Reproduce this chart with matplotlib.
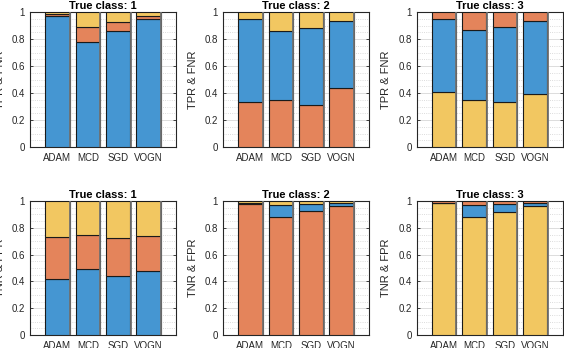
import numpy as np
import matplotlib.pyplot as plt
from matplotlib.ticker import MultipleLocator

plt.rcParams['font.family'] = ['Liberation Sans', 'DejaVu Sans']

methods = ['ADAM', 'MCD', 'SGD', 'VOGN']

# top row: TPR & FNR (stacked bottom -> top)
c1_tpr_blue = [0.972, 0.778, 0.857, 0.948]
c1_tpr_orange = [0.013, 0.111, 0.066, 0.022]
c1_tpr_yellow = [0.015, 0.111, 0.077, 0.030]

c2_tpr_orange = [0.333, 0.351, 0.311, 0.437]
c2_tpr_blue = [0.615, 0.506, 0.568, 0.499]
c2_tpr_yellow = [0.052, 0.143, 0.121, 0.064]

c3_tpr_yellow = [0.407, 0.351, 0.333, 0.393]
c3_tpr_blue = [0.541, 0.513, 0.556, 0.540]
c3_tpr_orange = [0.052, 0.136, 0.111, 0.067]

# bottom row: TNR & FPR
c1_tnr_blue = [0.419, 0.491, 0.437, 0.481]
c1_tnr_orange = [0.315, 0.258, 0.290, 0.256]
c1_tnr_yellow = [0.266, 0.251, 0.273, 0.263]

c2_tnr_orange = [0.975, 0.883, 0.928, 0.965]
c2_tnr_blue = [0.012, 0.087, 0.052, 0.020]
c2_tnr_yellow = [0.013, 0.030, 0.020, 0.015]

c3_tnr_yellow = [0.983, 0.883, 0.918, 0.965]
c3_tnr_blue = [0.005, 0.087, 0.060, 0.018]
c3_tnr_orange = [0.012, 0.030, 0.022, 0.017]

BLUE = '#4596d2'
ORANGE = '#e4845b'
YELLOW = '#f2c761'

panels = [
    ('True class: 1', 'TPR & FNR', [(c1_tpr_blue, BLUE), (c1_tpr_orange, ORANGE), (c1_tpr_yellow, YELLOW)]),
    ('True class: 2', 'TPR & FNR', [(c2_tpr_orange, ORANGE), (c2_tpr_blue, BLUE), (c2_tpr_yellow, YELLOW)]),
    ('True class: 3', 'TPR & FNR', [(c3_tpr_yellow, YELLOW), (c3_tpr_blue, BLUE), (c3_tpr_orange, ORANGE)]),
    ('True class: 1', 'TNR & FPR', [(c1_tnr_blue, BLUE), (c1_tnr_orange, ORANGE), (c1_tnr_yellow, YELLOW)]),
    ('True class: 2', 'TNR & FPR', [(c2_tnr_orange, ORANGE), (c2_tnr_blue, BLUE), (c2_tnr_yellow, YELLOW)]),
    ('True class: 3', 'TNR & FPR', [(c3_tnr_yellow, YELLOW), (c3_tnr_blue, BLUE), (c3_tnr_orange, ORANGE)]),
]

W, H = 564, 348
fig = plt.figure(figsize=(W / 100, H / 100), dpi=100)

lefts = [30, 223, 416.5]
rows = [(12, 147), (201, 335)]
x = np.arange(1, len(methods) + 1)
txt = '#262626'

for i, (title, ylab, segs) in enumerate(panels):
    top, bot = rows[i // 3]
    l = lefts[i % 3]
    ax = fig.add_axes([l / W, 1 - bot / H, 146 / W, (bot - top) / H])
    bottom = np.zeros(len(methods))
    for vals, col in segs:
        ax.bar(x, vals, 0.8, bottom=bottom, color=col, edgecolor='#1a1a1a', linewidth=0.8, zorder=3)
        bottom += np.array(vals)
    # grey shade along right edge of each bar
    ax.vlines(x + 0.41, 0, bottom, color='#707070', linewidth=1.3, zorder=4)
    ax.set_xlim(0.1, 4.9)
    ax.set_ylim(0, 1)
    ax.set_xticks(x)
    ax.set_xticklabels(methods)
    ax.set_yticks([0, 0.2, 0.4, 0.6, 0.8, 1])
    ax.set_yticklabels(['0', '0.2', '0.4', '0.6', '0.8', '1'])
    ax.yaxis.set_minor_locator(MultipleLocator(0.05))
    ax.grid(axis='y', which='major', color='#dcdcdc', linewidth=0.7, zorder=0)
    ax.grid(axis='y', which='minor', color='#d0d0d0', linestyle=':', linewidth=0.6, zorder=0)
    ax.tick_params(axis='both', which='both', direction='in', labelsize=7, colors=txt,
                   top=True, right=True, length=2.5, width=0.6)
    ax.tick_params(axis='y', which='minor', length=0)
    ax.tick_params(axis='x', pad=4)
    for s in ax.spines.values():
        s.set_color(txt)
        s.set_linewidth(0.8)
    ax.set_title(title, fontsize=8, fontweight='bold', pad=2, color='black')
    ax.set_ylabel(ylab, fontsize=8, color=txt, labelpad=5)

fig.savefig('out.png', dpi=100)
